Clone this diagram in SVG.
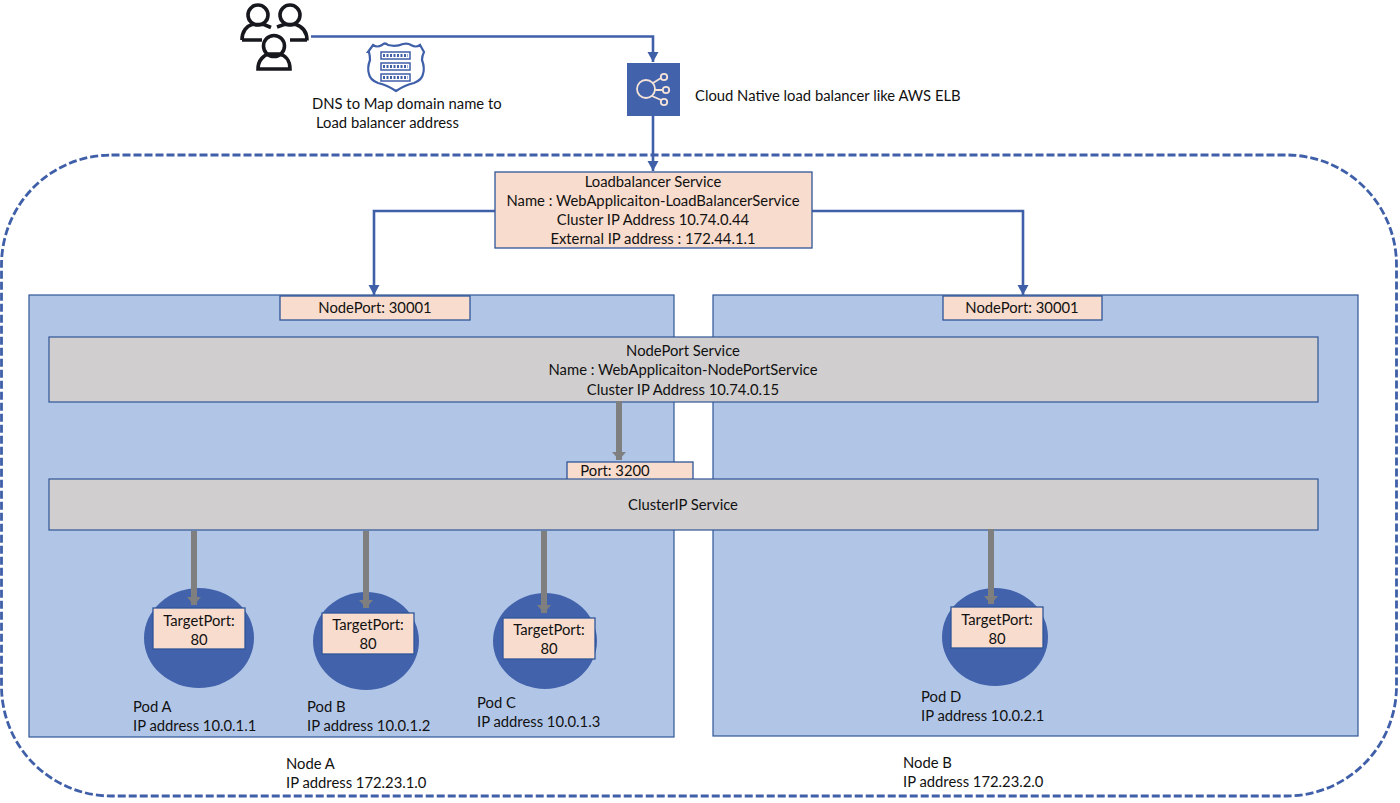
<svg xmlns="http://www.w3.org/2000/svg" width="1400" height="803" viewBox="0 0 1400 803">
<style>
text{font-family:"Lato","Open Sans","Liberation Sans",sans-serif;font-size:14.8px;fill:#111}
.m{text-anchor:middle}
.peach{fill:#f8dccd;stroke:#2f5597;stroke-width:1.3}
.grey{fill:#d0cece;stroke:#2f5597;stroke-width:1.2}
.node{fill:#b1c6e7;stroke:#2f5597;stroke-width:1.2}
.pod{fill:#4262ab}
.blue{fill:none;stroke:#3f5fa8;stroke-width:2.6}
.gr{fill:none;stroke:#7f7f7f;stroke-width:6}
.ic{fill:none;stroke:#16181d;stroke-width:3.6}
</style>
<defs>
<marker id="ab" markerUnits="userSpaceOnUse" markerWidth="12" markerHeight="12" refX="10" refY="6" orient="auto"><path d="M0 0.500L10 6L0 11.500z" fill="#3f5fa8"/></marker>
<marker id="ag" markerUnits="userSpaceOnUse" markerWidth="10" markerHeight="14" refX="8" refY="7" orient="auto"><path d="M0 0L8 7L0 14z" fill="#7f7f7f"/></marker>
</defs>
<rect id="cluster-boundary" x="1.500" y="155" width="1395" height="641" rx="110" ry="110" fill="none" stroke="#3f5fa8" stroke-width="2.800" stroke-dasharray="8 3"/>
<g id="node-a"><rect class="node" x="29" y="295" width="645" height="442"/>
<text x="286" y="769">Node A</text><text x="286" y="788">IP address 172.23.1.0</text></g>
<g id="node-b"><rect class="node" x="713" y="295" width="645" height="441"/>
<text x="903" y="768">Node B</text><text x="903" y="787">IP address 172.23.2.0</text></g>
<g id="users"><circle class="ic" cx="258" cy="15" r="10"/><circle class="ic" cx="290" cy="15" r="10"/><circle class="ic" cx="274" cy="46" r="10.500"/>
<path class="ic" d="M242 40c0-9 5-14 10-15.500h12l7 3M277 27l7-2.500h12c6 2 11 7 11 16M242 40h20M290 40h17M258 69c0-9 6-14 11-15h10c6 1 11 6 11 15z"/></g>
<g id="dns"><path d="M368 52l5-7q4 3 9 0q3-3 6 0q8 2 15-1q5-1 8 1q5 3 9 0l4 7q-2 4-2 8q3 8 1 14q-1 6-9 9q-9 2-18 8q-9-6-18-8q-8-3-9-9q-2-6 1-14q0-4-1-8z" fill="#fff" stroke="#3f5fa8" stroke-width="2.200"/>
<g fill="#fff" stroke="#3f5fa8" stroke-width="1.500"><rect x="381" y="52" width="29" height="7"/><rect x="381" y="63" width="29" height="7"/><rect x="381" y="74" width="29" height="7"/></g>
<g fill="none" stroke="#3f5fa8" stroke-width="3" stroke-dasharray="2 1.500"><path d="M383 55.500h25M383 66.500h25M383 77.500h25"/></g>
<text x="312" y="109">DNS to Map domain name to</text><text x="316" y="128">Load balancer address</text></g>
<g id="cloud-lb"><rect x="627" y="63" width="53" height="53" fill="#4262ab"/>
<g fill="none" stroke="#f5e3d8" stroke-width="1.800"><circle cx="646" cy="89" r="9"/><circle cx="664" cy="77" r="3.200"/><circle cx="666" cy="90" r="3.200"/><circle cx="664" cy="102" r="3.200"/><path d="M653 83l8-5M655 90h8M652 96l9 4"/></g>
<text x="695" y="101">Cloud Native load balancer like AWS ELB</text></g>
<g id="connectors">
<path class="blue" d="M311 36.500H653V62" marker-end="url(#ab)"/>
<path class="blue" d="M653 116V171" marker-end="url(#ab)"/>
<path class="blue" d="M495 211H374V295" marker-end="url(#ab)"/>
<path class="blue" d="M812 211H1023V295" marker-end="url(#ab)"/>
</g>
<g id="lb-service"><rect class="peach" x="495" y="172" width="317" height="76"/>
<text class="m" x="653" y="187">Loadbalancer Service</text><text class="m" x="653" y="206">Name : WebApplicaiton-LoadBalancerService</text><text class="m" x="653" y="225">Cluster IP Address 10.74.0.44</text><text class="m" x="653" y="244">External IP address : 172.44.1.1</text></g>
<g id="nodeport-a"><rect class="peach" x="280" y="296" width="190" height="24"/><text class="m" x="375" y="313">NodePort: 30001</text></g>
<g id="nodeport-b"><rect class="peach" x="943" y="296" width="159" height="24"/><text class="m" x="1022" y="313">NodePort: 30001</text></g>
<g id="nodeport-service"><rect class="grey" x="49" y="337" width="1269" height="65"/>
<text class="m" x="683" y="356">NodePort Service</text><text class="m" x="683" y="375">Name : WebApplicaiton-NodePortService</text><text class="m" x="683" y="395">Cluster IP Address 10.74.0.15</text></g>
<g id="port"><rect class="peach" x="567" y="462" width="126" height="18"/><text class="m" x="615" y="476">Port: 3200</text></g>
<g id="clusterip-service"><rect class="grey" x="49" y="479" width="1269" height="51"/><text class="m" x="683" y="510">ClusterIP Service</text></g>
<g id="pod-a"><ellipse class="pod" cx="199" cy="638" rx="55" ry="50"/><rect class="peach" x="153" y="608" width="92" height="41" stroke-width="1"/>
<text class="m" x="199" y="626">TargetPort:</text><text class="m" x="199" y="645">80</text><text x="133" y="712">Pod A</text><text x="133" y="731">IP address 10.0.1.1</text></g>
<g id="pod-b"><ellipse class="pod" cx="366" cy="641" rx="53" ry="49"/><rect class="peach" x="322" y="613" width="92" height="41" stroke-width="1"/>
<text class="m" x="368" y="630">TargetPort:</text><text class="m" x="368" y="649">80</text><text x="307" y="712">Pod B</text><text x="307" y="731">IP address 10.0.1.2</text></g>
<g id="pod-c"><ellipse class="pod" cx="545" cy="641" rx="52" ry="48"/><rect class="peach" x="503" y="618" width="92" height="41" stroke-width="1"/>
<text class="m" x="549" y="635">TargetPort:</text><text class="m" x="549" y="654">80</text><text x="477" y="708">Pod C</text><text x="477" y="727">IP address 10.0.1.3</text></g>
<g id="pod-d"><ellipse class="pod" cx="995" cy="637" rx="53" ry="49"/><rect class="peach" x="951" y="607" width="92" height="41" stroke-width="1"/>
<text class="m" x="997" y="625">TargetPort:</text><text class="m" x="997" y="644">80</text><text x="921" y="702">Pod D</text><text x="921" y="721">IP address 10.0.2.1</text></g>
<g id="service-connectors">
<path class="gr" d="M619 401V460" marker-end="url(#ag)"/>
<path class="gr" d="M194 531V605" marker-end="url(#ag)"/>
<path class="gr" d="M366 531V608" marker-end="url(#ag)"/>
<path class="gr" d="M544 531V613" marker-end="url(#ag)"/>
<path class="gr" d="M991 529V604" marker-end="url(#ag)"/>
</g>
</svg>
